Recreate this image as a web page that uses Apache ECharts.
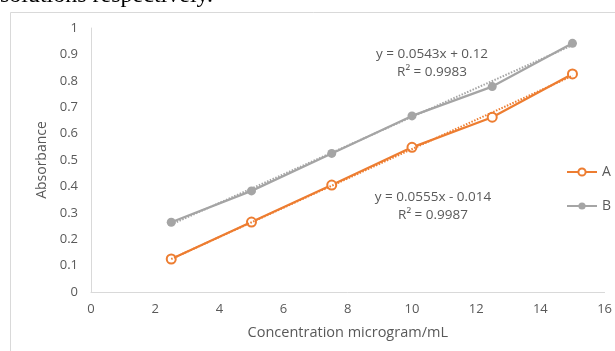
<!DOCTYPE html>
<html>
<head>
<meta charset="utf-8">
<title>Absorbance vs concentration</title>
<script src="https://cdn.jsdelivr.net/npm/echarts@6/dist/echarts.min.js"></script>
<style>
  html, body { margin: 0; padding: 0; background: #fff; }
  #chart { width: 615px; height: 351px; }
</style>
</head>
<body>
<div id="chart"></div>
<script>
// concentration (microgram/mL)
const conc = [2.5, 5, 7.5, 10, 12.5, 15];
// absorbance
const seriesA = [0.125, 0.265, 0.405, 0.548, 0.662, 0.826];
const seriesB = [0.264, 0.383, 0.525, 0.667, 0.778, 0.942];
// linear trendline end points (x = 2.5 and x = 15)
const trendX = [2.5, 15];
const trendA = [0.125, 0.819];
const trendB = [0.256, 0.935];
const eqA = ['y = 0.0555x - 0.014', 'R\u00b2 = 0.9987'];
const eqB = ['y = 0.0543x + 0.12', 'R\u00b2 = 0.9983'];
const xTicks = [0, 16, 2];
const yTicks = [0, 1, 0.1];

const orange = '#ED7D31';
const grey = '#A5A5A5';
const textColor = '#595959';
const font = 'Open Sans';

function pairs(xs, ys) {
  return xs.map((x, i) => [x, ys[i]]);
}

let chart = echarts.init(document.getElementById('chart'));
let option = {
  animation: false,
  textStyle: { fontFamily: font },
  grid: { left: 91, right: 8, top: 28, bottom: 59, containLabel: false },
  legend: {
    data: ['A', 'B'],
    orient: 'vertical',
    left: 561,
    top: 160,
    itemWidth: 30,
    itemHeight: 9,
    itemGap: 20,
    textStyle: { color: textColor, fontSize: 14, fontFamily: font }
  },
  xAxis: {
    type: 'value',
    min: xTicks[0],
    max: xTicks[1],
    interval: xTicks[2],
    name: 'Concentration microgram/mL',
    nameLocation: 'middle',
    nameGap: 33,
    nameTextStyle: { color: textColor, fontSize: 14.5 },
    axisLine: { lineStyle: { color: '#D9D9D9', width: 1 } },
    axisTick: { show: false },
    splitLine: { show: false },
    axisLabel: { color: textColor, fontSize: 13, margin: 11 }
  },
  yAxis: {
    type: 'value',
    min: yTicks[0],
    max: yTicks[1],
    interval: yTicks[2],
    name: 'Absorbance',
    nameLocation: 'middle',
    nameGap: 40,
    nameTextStyle: { color: textColor, fontSize: 14 },
    axisLine: { show: true, lineStyle: { color: '#D9D9D9', width: 1 } },
    axisTick: { show: false },
    splitLine: { show: false },
    axisLabel: { color: textColor, fontSize: 13, margin: 13 }
  },
  series: [
    {
      name: 'trend A',
      type: 'line',
      data: pairs(trendX, trendA),
      symbol: 'none',
      silent: true,
      lineStyle: { color: orange, width: 2, type: [1.5, 1.5] },
      z: 3
    },
    {
      name: 'trend B',
      type: 'line',
      data: pairs(trendX, trendB),
      symbol: 'none',
      silent: true,
      lineStyle: { color: grey, width: 2, type: [1.5, 1.5] },
      z: 3
    },
    {
      name: 'A',
      type: 'line',
      data: pairs(conc, seriesA),
      symbol: 'emptyCircle',
      symbolSize: 9,
      lineStyle: { color: orange, width: 2.25 },
      itemStyle: { color: orange, borderColor: orange, borderWidth: 1.5 },
      z: 2
    },
    {
      name: 'B',
      type: 'line',
      data: pairs(conc, seriesB),
      symbol: 'circle',
      symbolSize: 9,
      lineStyle: { color: grey, width: 2.25 },
      itemStyle: { color: grey },
      z: 2
    }
  ],
  graphic: [
    // chart frame, cut by the page edge like in the screenshot
    {
      type: 'rect',
      silent: true,
      z: -10,
      shape: { x: 10.5, y: 12.5, width: 700, height: 500 },
      style: { fill: '#fff', stroke: '#D9D9D9', lineWidth: 1 }
    },
    // bottom of the text line above the figure
    {
      type: 'text',
      silent: true,
      style: {
        x: 213, y: 8,
        text: 'solutions respectively.',
        align: 'right',
        verticalAlign: 'bottom',
        fill: '#000',
        font: '24px "Liberation Serif"'
      }
    },
    {
      type: 'text',
      silent: true,
      style: {
        x: 432, y: 63,
        text: eqB.join('\n'),
        align: 'center',
        verticalAlign: 'middle',
        lineHeight: 18,
        fill: textColor,
        font: '13.5px "Open Sans"'
      }
    },
    {
      type: 'text',
      silent: true,
      style: {
        x: 433, y: 206,
        text: eqA.join('\n'),
        align: 'center',
        verticalAlign: 'middle',
        lineHeight: 18,
        fill: textColor,
        font: '13.5px "Open Sans"'
      }
    }
  ]
};
chart.setOption(option);
</script>
</body>
</html>
